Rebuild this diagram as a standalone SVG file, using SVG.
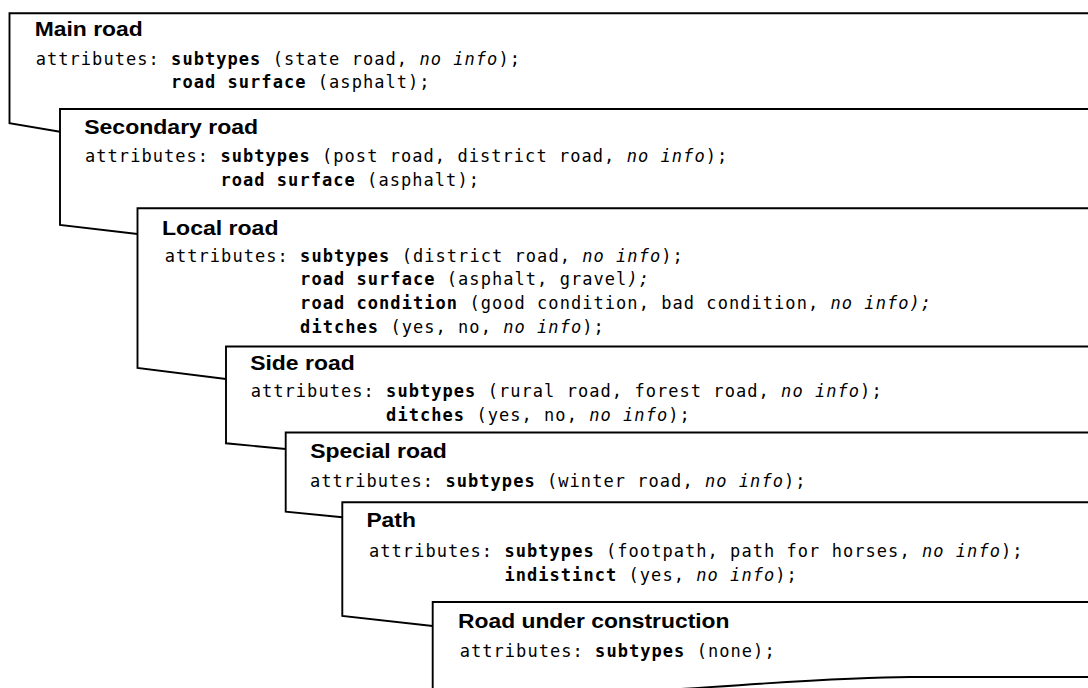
<svg xmlns="http://www.w3.org/2000/svg" width="1088" height="688" viewBox="0 0 1088 688" xml:space="preserve">
  <style>
    .box { fill: #ffffff; stroke: #000000; stroke-width: 1.9; stroke-linejoin: miter; }
    .title { font-family: "Liberation Sans", Arial, sans-serif; font-weight: bold; font-size: 20px; fill: #000000; }
    .attr { font-family: "DejaVu Sans Mono", "Liberation Mono", monospace; font-size: 17px; letter-spacing: 1.05px; fill: #000000; white-space: pre; }
    .b { font-weight: bold; }
    .i { font-style: italic; }
  </style>
  <rect x="0" y="0" width="1088" height="688" fill="#ffffff"/>

  <!-- Each class is a document-shaped box running off the right edge; later boxes overlap earlier ones -->
  <g id="main-road">
    <path class="box" d="M1092,13.3 H9.5 V123.3 L60,131.7 L1092,131.7 Z"/>
    <text class="title" x="34.7" y="36" textLength="108" lengthAdjust="spacingAndGlyphs">Main road</text>
    <text class="attr" x="35.7" y="64.5">attributes: <tspan class="b">subtypes</tspan> (state road, <tspan class="i">no info</tspan>);</text>
    <text class="attr" x="171.1" y="88"><tspan class="b">road surface</tspan> (asphalt);</text>
  </g>

  <g id="secondary-road">
    <path class="box" d="M1092,109 H60 V225 L137.5,234 L1092,234 Z"/>
    <text class="title" x="84.2" y="134" textLength="174" lengthAdjust="spacingAndGlyphs">Secondary road</text>
    <text class="attr" x="85" y="162">attributes: <tspan class="b">subtypes</tspan> (post road, district road, <tspan class="i">no info</tspan>);</text>
    <text class="attr" x="220.4" y="185.5"><tspan class="b">road surface</tspan> (asphalt);</text>
  </g>

  <g id="local-road">
    <path class="box" d="M1092,208.3 H137.5 V368 L226,379 L1092,379 Z"/>
    <text class="title" x="162" y="235" textLength="116.5" lengthAdjust="spacingAndGlyphs">Local road</text>
    <text class="attr" x="164.7" y="261.5">attributes: <tspan class="b">subtypes</tspan> (district road, <tspan class="i">no info</tspan>);</text>
    <text class="attr" x="300.1" y="285"><tspan class="b">road surface</tspan> (asphalt, gravel<tspan class="i">);</tspan></text>
    <text class="attr" x="300.1" y="309"><tspan class="b">road condition</tspan> (good condition, bad condition, <tspan class="i">no info);</tspan></text>
    <text class="attr" x="300.1" y="333"><tspan class="b">ditches</tspan> (yes, no, <tspan class="i">no info</tspan>);</text>
  </g>

  <g id="side-road">
    <path class="box" d="M1092,346.5 H226 V443.3 L285.7,449 L1092,449 Z"/>
    <text class="title" x="250.2" y="370" textLength="104.5" lengthAdjust="spacingAndGlyphs">Side road</text>
    <text class="attr" x="250.7" y="397">attributes: <tspan class="b">subtypes</tspan> (rural road, forest road, <tspan class="i">no info</tspan>);</text>
    <text class="attr" x="386.1" y="421"><tspan class="b">ditches</tspan> (yes, no, <tspan class="i">no info</tspan>);</text>
  </g>

  <g id="special-road">
    <path class="box" d="M1092,432.5 H285.7 V511.7 L342.3,517.3 L1092,517.3 Z"/>
    <text class="title" x="310.2" y="458" textLength="136.5" lengthAdjust="spacingAndGlyphs">Special road</text>
    <text class="attr" x="310" y="486.5">attributes: <tspan class="b">subtypes</tspan> (winter road, <tspan class="i">no info</tspan>);</text>
  </g>

  <g id="path">
    <path class="box" d="M1092,502.3 H342.3 V616 L432.7,626 L1092,626 Z"/>
    <text class="title" x="366.4" y="527" textLength="49.5" lengthAdjust="spacingAndGlyphs">Path</text>
    <text class="attr" x="369" y="556.5">attributes: <tspan class="b">subtypes</tspan> (footpath, path for horses, <tspan class="i">no info</tspan>);</text>
    <text class="attr" x="504.4" y="581"><tspan class="b">indistinct</tspan> (yes, <tspan class="i">no info</tspan>);</text>
  </g>

  <g id="road-under-construction">
    <path class="box" d="M1092,602 H432.7 V696 C620,700 790,677 910,677 H1092 Z"/>
    <text class="title" x="458" y="628" textLength="271.5" lengthAdjust="spacingAndGlyphs">Road under construction</text>
    <text class="attr" x="459.7" y="656.5">attributes: <tspan class="b">subtypes</tspan> (none);</text>
  </g>
</svg>
